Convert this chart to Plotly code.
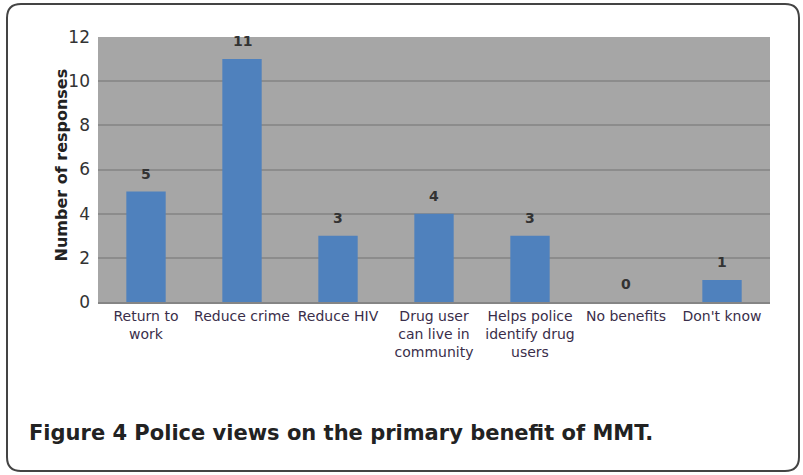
import plotly.graph_objects as go

categories = ["Return to<br>work", "Reduce crime", "Reduce HIV", "Drug user<br>can live in<br>community",
              "Helps police<br>identify drug<br>users", "No benefits", "Don't know"]
values = [5, 11, 3, 4, 3, 0, 1]
y_ticks = [0, 2, 4, 6, 8, 10, 12]

W, H = 803, 475
L, R, T, B = 98, 33, 37, 173
pw, ph = W - L - R, H - T - B

def px(x):
    return (x - L) / pw

def py(y):
    return (H - B - y) / ph

fig = go.Figure(go.Bar(
    x=categories, y=values,
    marker=dict(color="#4F81BD", line=dict(width=0)),
    width=0.41,
))

value_labels = [dict(x=c, y=v, xref="x", yref="y", text=f"<b>{v}</b>", showarrow=False,
                     yanchor="bottom", yshift=8,
                     font=dict(family="DejaVu Sans", size=14, color="#333333"))
                for c, v in zip(categories, values)]

# rounded border
x0, x1, y0, y1, r = 7, 799, 4, 471, 14
path = (f"M {px(x0+r)},{py(y0)} L {px(x1-r)},{py(y0)} Q {px(x1)},{py(y0)} {px(x1)},{py(y0+r)} "
        f"L {px(x1)},{py(y1-r)} Q {px(x1)},{py(y1)} {px(x1-r)},{py(y1)} "
        f"L {px(x0+r)},{py(y1)} Q {px(x0)},{py(y1)} {px(x0)},{py(y1-r)} "
        f"L {px(x0)},{py(y0+r)} Q {px(x0)},{py(y0)} {px(x0+r)},{py(y0)} Z")

fig.update_layout(
    width=W, height=H, margin=dict(l=L, r=R, t=T, b=B),
    paper_bgcolor="white", plot_bgcolor="#A6A6A6",
    showlegend=False,
    font=dict(family="DejaVu Sans", color="#333333"),
    xaxis=dict(tickfont=dict(family="DejaVu Sans", size=14, color="#3a2e4a"), showline=True,
               linecolor="#858585", linewidth=2, ticks="", tickangle=0),
    yaxis=dict(range=[0, 12], tickvals=y_ticks, tickfont=dict(family="DejaVu Sans", size=17, color="#333333"),
               gridcolor="#8C8C8C", gridwidth=1.5, zeroline=False, ticks="", ticklabelstandoff=7),
    shapes=[dict(type="path", xref="paper", yref="paper", path=path,
                 line=dict(color="#444444", width=2), fillcolor="rgba(0,0,0,0)", layer="below")],
    annotations=value_labels + [
        dict(text="<b>Number of responses</b>", textangle=-90, xref="paper", yref="paper",
             x=px(49), y=py(165), showarrow=False, font=dict(family="DejaVu Sans", size=16, color="#222222")),
        dict(text="<b>Figure 4 Police views on the primary benefit of MMT.</b>", xref="paper", yref="paper",
             x=px(27), y=py(433), xanchor="left", yanchor="middle", showarrow=False,
             font=dict(family="DejaVu Sans", size=21, color="#222222")),
    ],
)

fig.write_html("out.html")
